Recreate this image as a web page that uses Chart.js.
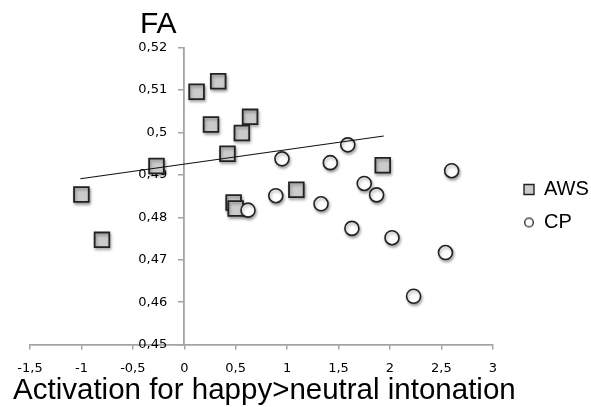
<!DOCTYPE html>
<html><head><meta charset="utf-8">
<script src="https://cdn.jsdelivr.net/npm/chart.js@4/dist/chart.umd.min.js"></script>
<style>html,body{margin:0;padding:0;background:#fff;} #wrap{width:591px;height:407px;}</style>
</head><body><div id="wrap"><canvas id="c" width="591" height="407"></canvas></div>
<script>
const seriesNames = ['AWS', 'CP'];
const awsX = [0.12, 0.33, 0.26, 0.64, 0.56, 0.42, -0.27, -1.00, -0.80, 0.48, 0.50, 1.09, 1.93];
const awsY = [0.5096, 0.5121, 0.5019, 0.5037, 0.4999, 0.4950, 0.4921, 0.4854, 0.4747, 0.4835, 0.4821, 0.4865, 0.4923];
const cpX = [0.62, 0.95, 0.89, 1.42, 1.59, 1.33, 1.75, 1.87, 1.63, 2.02, 2.60, 2.54, 2.23];
const cpY = [0.4817, 0.4938, 0.4851, 0.4929, 0.4971, 0.4832, 0.4880, 0.4853, 0.4774, 0.4752, 0.4910, 0.4717, 0.4614];
const trendX = [-1.01, 1.94];
const trendY = [0.4891, 0.4992];
const xTicks = [-1.5, -1, -0.5, 0, 0.5, 1, 1.5, 2, 2.5, 3];
const xTickLabels = ['-1,5', '-1', '-0,5', '0', '0,5', '1', '1,5', '2', '2,5', '3'];
const yTicks = [0.45, 0.46, 0.47, 0.48, 0.49, 0.50, 0.51, 0.52];
const yTickLabels = ['0,45', '0,46', '0,47', '0,48', '0,49', '0,5', '0,51', '0,52'];
const xTitle = 'Activation for happy>neutral intonation';
const yTitle = 'FA';

const zip = (xs, ys) => xs.map((x, i) => ({x: x, y: ys[i]}));

// small circle icon for the CP legend entry
const cpIcon = document.createElement('canvas');
cpIcon.width = 12; cpIcon.height = 12;
(function () {
  const g = cpIcon.getContext('2d');
  g.beginPath(); g.arc(6, 6, 4.3, 0, Math.PI * 2);
  g.fillStyle = '#fff'; g.fill();
  g.lineWidth = 1.3; g.strokeStyle = '#222'; g.stroke();
})();

const shadowPlugin = {
  id: 'shadow',
  beforeDatasetDraw(chart, args) {
    if (!chart.data.datasets[args.index].isTrend) {
      const c = chart.ctx; c.save();
      c.shadowColor = 'rgba(0,0,0,0.35)'; c.shadowBlur = 3; c.shadowOffsetX = 1; c.shadowOffsetY = 2;
    }
  },
  afterDatasetDraw(chart, args) {
    if (!chart.data.datasets[args.index].isTrend) chart.ctx.restore();
  }
};

const legendPlace = {
  id: 'legendPlace',
  afterLayout(chart) {
    const lg = chart.legend; if (!lg) return;
    const w = lg.width;
    lg.left = 511; lg.right = lg.left + w;
    const h = lg.bottom - lg.top;
    lg.top = 166.5; lg.bottom = lg.top + h;
  }
};

// axis titles (drawn as text; x title is wider than the plot area)
const axisTitles = {
  id: 'axisTitles',
  afterDraw(chart) {
    const c = chart.ctx; const xs = chart.scales.x; const ca = chart.chartArea;
    c.save();
    c.fillStyle = '#000'; c.textAlign = 'center'; c.textBaseline = 'alphabetic';
    c.font = '30px "Liberation Sans", Arial, sans-serif';
    c.fillText(yTitle, xs.getPixelForValue(0) - 26, 33);
    c.font = '29.5px "Liberation Sans", Arial, sans-serif';
    c.fillText(xTitle, (ca.left + ca.right) / 2 + 3, 399);
    c.restore();
  }
};

const axisColor = '#a3a3a3';
const tickFont = {family: '"DejaVu Sans", sans-serif', size: 13};

new Chart(document.getElementById('c'), {
  type: 'scatter',
  data: {
    datasets: [
      {label: seriesNames[0], data: zip(awsX, awsY), pointStyle: 'rect', pointRadius: 10.4, pointHoverRadius: 10.4,
       backgroundColor: '#cbcbcb', borderColor: '#222', borderWidth: 1.8, order: 2},
      {label: seriesNames[1], data: zip(cpX, cpY), pointStyle: 'circle', pointRadius: 7, pointHoverRadius: 7,
       backgroundColor: '#ffffff', borderColor: '#222', borderWidth: 1.6, order: 1},
      {label: 'trend', isTrend: true, data: zip(trendX, trendY), showLine: true, pointRadius: 0, pointHoverRadius: 0,
       borderColor: '#111', borderWidth: 1.1, backgroundColor: '#111', order: 0}
    ]
  },
  options: {
    responsive: false, animation: false, devicePixelRatio: 1,
    layout: {padding: {left: 30, top: 47.7, right: 10.4, bottom: 20}},
    scales: {
      x: {
        type: 'linear', position: 'bottom', min: -1.5, max: 3,
        afterBuildTicks: s => { s.ticks = xTicks.map(v => ({value: v})); },
        ticks: {callback: (v, i) => xTickLabels[i], font: tickFont, color: '#000', padding: 10.9, maxRotation: 0, autoSkip: false},
        grid: {drawOnChartArea: false, drawTicks: true, tickLength: 5, color: axisColor, lineWidth: 1.5},
        border: {color: axisColor, width: 1.8},
        title: {display: false}
      },
      y: {
        type: 'linear', position: {x: 0}, min: 0.45, max: 0.52,
        afterBuildTicks: s => { s.ticks = yTicks.map(v => ({value: v})); },
        ticks: {display: false},
        grid: {drawOnChartArea: false, drawTicks: true, tickLength: 5, color: axisColor, lineWidth: 1.5},
        border: {color: axisColor, width: 1.8}
      },
      yl: {
        type: 'linear', position: {x: -0.165}, min: 0.45, max: 0.52,
        afterBuildTicks: s => { s.ticks = yTicks.map(v => ({value: v})); },
        ticks: {callback: (v, i) => yTickLabels[i], font: tickFont, color: '#000', autoSkip: false},
        grid: {display: false},
        border: {display: false}
      }
    },
    plugins: {
      tooltip: {enabled: false},
      legend: {
        position: 'right', align: 'start',
        labels: {
          usePointStyle: true, boxWidth: 10, boxHeight: 10, padding: 13, color: '#000',
          font: {family: '"Liberation Sans", Arial, sans-serif', size: 20},
          filter: item => item.text !== 'trend',
          sort: (a, b) => a.datasetIndex - b.datasetIndex,
          generateLabels: chart => {
            const items = Chart.defaults.plugins.legend.labels.generateLabels(chart);
            items.forEach(it => { if (it.text === seriesNames[1]) it.pointStyle = cpIcon; it.lineWidth = 1.4; });
            return items;
          }
        }
      }
    }
  },
  plugins: [shadowPlugin, legendPlace, axisTitles]
});
</script>
</body></html>
